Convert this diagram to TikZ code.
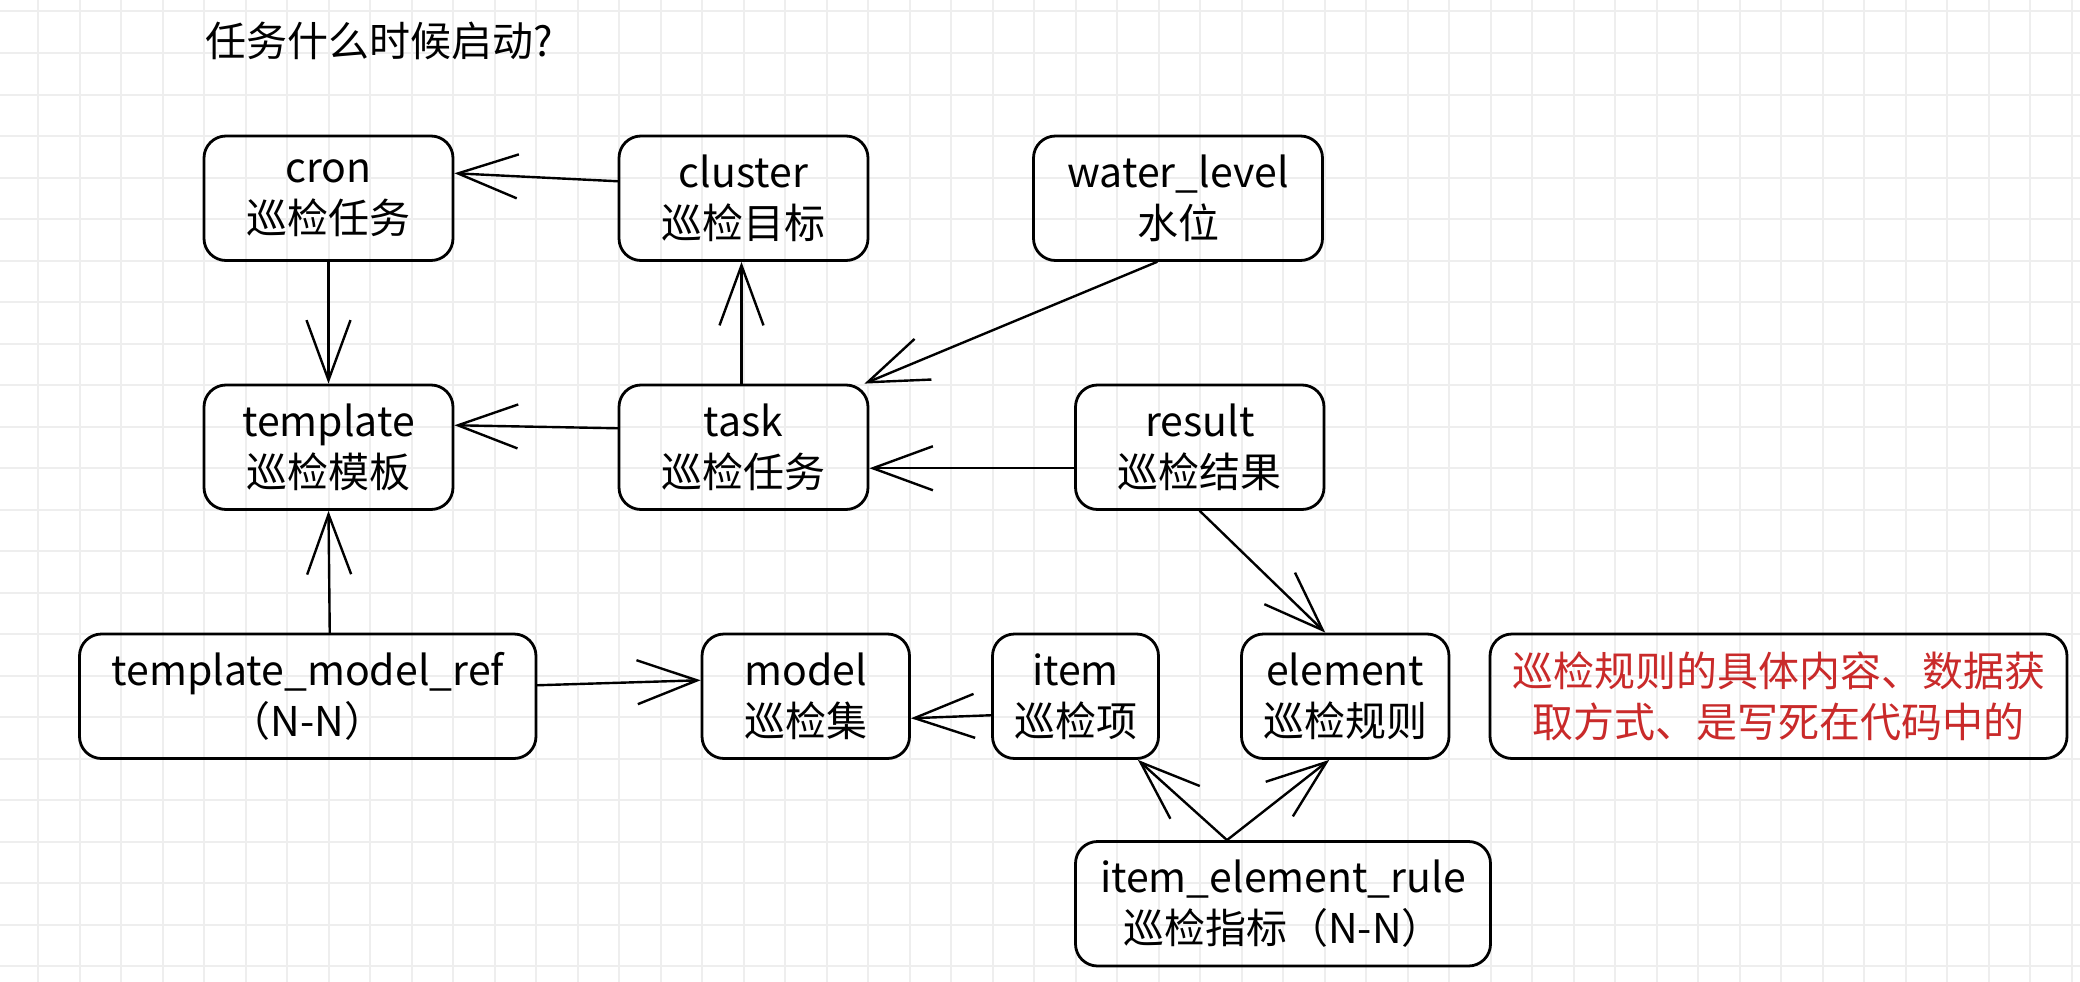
\documentclass[tikz,border=0pt]{standalone}
\usepackage{fontspec}
\setmainfont{Noto Sans CJK SC}
\usetikzlibrary{arrows.meta}
\definecolor{gridgray}{HTML}{EEEEEE}
\definecolor{notered}{HTML}{C92A2A}
\tikzset{
  box/.style={draw, line width=2.8pt, rounded corners=22pt, align=center, inner sep=0pt,
    minimum height=124.5pt, font=\fontsize{41}{51}\selectfont},
  link/.style={line width=2.4pt, line cap=round,
    -{Straight Barb[length=60pt, width=44pt, line width=2.4pt]}},
  gridline/.style={gridgray, line width=2pt}
}
\begin{document}
\begin{tikzpicture}[x=1pt, y=-1pt]
\useasboundingbox (0,0) rectangle (2080,982);
\fill[white] (0,0) rectangle (2080,982);
% grid
\foreach \i in {0,...,49} \draw[gridline] (38+41.5*\i, 0) -- (38+41.5*\i, 982);
\foreach \j in {0,...,23} \draw[gridline] (0, 11.5+41.5*\j) -- (2080, 11.5+41.5*\j);

\node[anchor=west, inner sep=0pt, font=\fontsize{41}{51}\selectfont] (title) at (205,41) {任务什么时候启动?};

% first row
\node[box, minimum width=249pt] (cron) at (328.5,198.25) {cron\\巡检任务};
\node[box, minimum width=249pt] (cluster) at (743.5,198.25) {cluster\\巡检目标};
\node[box, minimum width=289pt] (water) at (1178,198.25) {water\_level\\水位};
% second row
\node[box, minimum width=249pt] (template) at (328.5,447.25) {template\\巡检模板};
\node[box, minimum width=249pt] (task) at (743.5,447.25) {task\\巡检任务};
\node[box, minimum width=248.5pt] (result) at (1199.75,447.25) {result\\巡检结果};
% third row
\node[box, minimum width=456.5pt] (tmref) at (307.75,696.25) {template\_model\_ref\\（N-N）};
\node[box, minimum width=207.5pt] (model) at (805.75,696.25) {model\\巡检集};
\node[box, minimum width=166pt] (item) at (1075.5,696.25) {item\\巡检项};
\node[box, minimum width=207.5pt] (element) at (1345.25,696.25) {element\\巡检规则};
\node[box, minimum width=577pt, text=notered] (note) at (1778.5,696.25) {巡检规则的具体内容、数据获\\取方式、是写死在代码中的};
% bottom
\node[box, minimum width=415pt] (rule) at (1283,903.75) {item\_element\_rule\\巡检指标（N-N）};
\coordinate (fork) at ([xshift=-56pt]rule.north);

% connectors
\draw[link] ([yshift=17pt]cluster.west) -- ([yshift=25pt]cron.east);
\draw[link] (cron.south) -- (template.north);
\draw[link] ([xshift=-2pt]task.north) -- ([xshift=-2pt]cluster.south);
\draw[link] ([xshift=-21pt]water.south) -- ([xshift=-5pt]task.north east);
\draw[link] ([yshift=19pt]task.west) -- ([yshift=22pt]template.east);
\draw[link] ([yshift=-21pt]result.west) -- ([yshift=-21pt]task.east);
\draw[link] ([xshift=22pt]tmref.north) -- (template.south);
\draw[link] ([yshift=11pt]tmref.east) -- ([yshift=16pt]model.west);
\draw[link] ([yshift=-19pt]item.west) -- ([yshift=-22pt]model.east);
\draw[link] (result.south) -- ([xshift=-20pt]element.north);
\draw[link] (fork) -- ([xshift=-22pt]item.south east);
\draw[link] (fork) -- ([xshift=-16pt]element.south);
\end{tikzpicture}
\end{document}
